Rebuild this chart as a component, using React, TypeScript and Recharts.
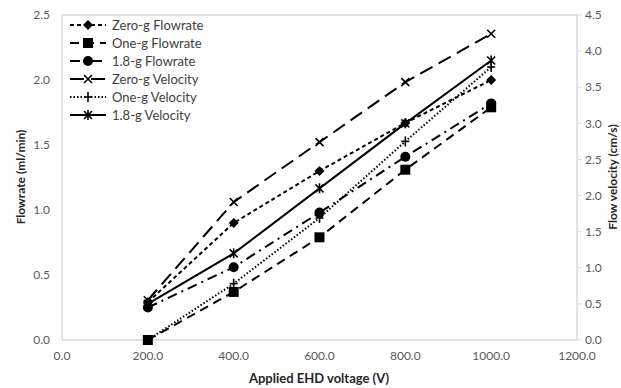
import React from 'react';
import { LineChart, Line, XAxis, YAxis, ReferenceLine } from 'recharts';

// applied voltage (V)
const voltage = [200, 400, 600, 800, 1000];

// flowrate (ml/min), left axis
const zeroGFlow = [0.29, 0.9, 1.3, 1.67, 2.0];
const oneGFlow = [0.0, 0.37, 0.79, 1.31, 1.79];
const g18Flow = [0.25, 0.56, 0.98, 1.41, 1.82];

// flow velocity (cm/s), right axis
const zeroGVel = [0.55, 1.91, 2.74, 3.57, 4.24];
const oneGVel = [0.0, 0.78, 1.69, 2.75, 3.78];
const g18Vel = [0.5, 1.2, 2.1, 3.0, 3.87];

const xTicks = [0, 200, 400, 600, 800, 1000, 1200];
const leftTicks = [0, 0.5, 1.0, 1.5, 2.0, 2.5];
const rightTicks = [0, 0.5, 1.0, 1.5, 2.0, 2.5, 3.0, 3.5, 4.0, 4.5];

const series = [
  { key: 'zfr', name: 'Zero-g Flowrate', axis: 'left', dash: '4 3', marker: 'diamond' },
  { key: 'ofr', name: 'One-g Flowrate', axis: 'left', dash: '9 6', marker: 'square' },
  { key: 'gfr', name: '1.8-g Flowrate', axis: 'left', dash: '10 5 2 5', marker: 'circle' },
  { key: 'zv', name: 'Zero-g Velocity', axis: 'right', dash: '14 7', marker: 'x' },
  { key: 'ov', name: 'One-g Velocity', axis: 'right', dash: '1.5 2', marker: 'plus' },
  { key: 'gv', name: '1.8-g Velocity', axis: 'right', dash: undefined, marker: 'star' },
];

const data = voltage.map((v, i) => ({
  v,
  zfr: zeroGFlow[i],
  ofr: oneGFlow[i],
  gfr: g18Flow[i],
  zv: zeroGVel[i],
  ov: oneGVel[i],
  gv: g18Vel[i],
}));

const FONT = 'Lato, "Open Sans", sans-serif';
const tickStyle = { fill: '#595959', fontSize: 12, fontFamily: FONT };

const Marker = ({ kind, cx, cy }: { kind: string; cx: number; cy: number }) => {
  if (cx == null || cy == null) return null;
  switch (kind) {
    case 'diamond':
      return <polygon points={`${cx},${cy - 5} ${cx + 5},${cy} ${cx},${cy + 5} ${cx - 5},${cy}`} fill="#000" />;
    case 'square':
      return <rect x={cx - 5} y={cy - 5} width={10} height={10} fill="#000" />;
    case 'circle':
      return <circle cx={cx} cy={cy} r={5} fill="#000" />;
    case 'x':
      return (
        <g stroke="#000" strokeWidth={1.6}>
          <line x1={cx - 4} y1={cy - 4} x2={cx + 4} y2={cy + 4} />
          <line x1={cx - 4} y1={cy + 4} x2={cx + 4} y2={cy - 4} />
        </g>
      );
    case 'plus':
      return (
        <g stroke="#000" strokeWidth={1.6}>
          <line x1={cx - 4} y1={cy} x2={cx + 4} y2={cy} />
          <line x1={cx} y1={cy - 5} x2={cx} y2={cy + 5} />
        </g>
      );
    default:
      return (
        <g stroke="#000" strokeWidth={1.6}>
          <line x1={cx - 4} y1={cy - 4} x2={cx + 4} y2={cy + 4} />
          <line x1={cx - 4} y1={cy + 4} x2={cx + 4} y2={cy - 4} />
          <line x1={cx} y1={cy - 5} x2={cx} y2={cy + 5} />
        </g>
      );
  }
};

const App: React.FC = () => {
  return (
    <div style={{ position: 'absolute', left: 0, top: 0, width: 621, height: 388, background: '#fff', overflow: 'hidden' }}>
      <LineChart width={621} height={388} data={data} margin={{ top: 15, right: 0, bottom: 0, left: 0 }}>
        <XAxis
          dataKey="v"
          type="number"
          domain={[0, 1200]}
          ticks={xTicks}
          tickFormatter={(t: number) => t.toFixed(1)}
          axisLine={{ stroke: '#d9d9d9', strokeWidth: 1.5 }}
          tickLine={false}
          tickSize={0}
          tickMargin={11}
          height={48}
          tick={tickStyle}
        />
        <YAxis
          yAxisId="left"
          domain={[0, 2.5]}
          ticks={leftTicks}
          tickFormatter={(t: number) => t.toFixed(1)}
          axisLine={{ stroke: '#d9d9d9', strokeWidth: 1.5 }}
          tickLine={false}
          tickSize={0}
          tickMargin={12}
          width={62}
          tick={tickStyle}
        />
        <YAxis
          yAxisId="right"
          orientation="right"
          domain={[0, 4.5]}
          ticks={rightTicks}
          tickFormatter={(t: number) => t.toFixed(1)}
          axisLine={{ stroke: '#d9d9d9', strokeWidth: 1.5 }}
          tickLine={{ stroke: '#d9d9d9' }}
          tickSize={5}
          tickMargin={3}
          width={44}
          tick={tickStyle}
        />
        <ReferenceLine yAxisId="left" y={2.5} stroke="#d9d9d9" strokeWidth={1.5} />
        {series.map((s) => (
          <Line
            key={s.key}
            yAxisId={s.axis}
            dataKey={s.key}
            name={s.name}
            stroke="#000"
            strokeWidth={2}
            strokeDasharray={s.dash}
            dot={(p: any) => <Marker key={`${s.key}-${p.index}`} kind={s.marker} cx={p.cx} cy={p.cy} />}
            activeDot={false}
            isAnimationActive={false}
          />
        ))}
      </LineChart>

      {/* legend */}
      <div style={{ position: 'absolute', left: 68, top: 16, fontFamily: FONT, fontSize: 13, color: '#404040' }}>
        {series.map((s) => (
          <div key={s.key} style={{ display: 'flex', alignItems: 'center', height: 18 }}>
            <svg width={40} height={14} style={{ marginRight: 4 }}>
              <line x1={2} y1={7} x2={38} y2={7} stroke="#000" strokeWidth={2} strokeDasharray={s.dash} />
              <Marker kind={s.marker} cx={20} cy={7} />
            </svg>
            <span>{s.name}</span>
          </div>
        ))}
      </div>

      {/* axis titles */}
      <div style={{ position: 'absolute', left: 20, top: 177, transform: 'translate(-50%, -50%) rotate(-90deg)', whiteSpace: 'nowrap', fontFamily: FONT, fontWeight: 700, fontSize: 12, color: '#262626' }}>
        Flowrate (ml/min)
      </div>
      <div style={{ position: 'absolute', left: 612, top: 177, transform: 'translate(-50%, -50%) rotate(-90deg)', whiteSpace: 'nowrap', fontFamily: FONT, fontWeight: 700, fontSize: 12, color: '#262626' }}>
        Flow velocity (cm/s)
      </div>
      <div style={{ position: 'absolute', left: 319, top: 378, transform: 'translate(-50%, -50%)', whiteSpace: 'nowrap', fontFamily: FONT, fontWeight: 700, fontSize: 13, color: '#262626' }}>
        Applied EHD voltage (V)
      </div>
    </div>
  );
};

export default App;
